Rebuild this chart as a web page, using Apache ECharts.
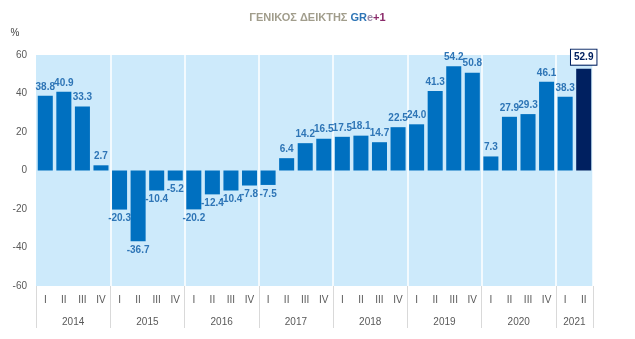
<!DOCTYPE html>
<html>
<head>
<meta charset="utf-8">
<script src="https://cdn.jsdelivr.net/npm/echarts@6/dist/echarts.min.js"></script>
<style>
  html, body { margin: 0; padding: 0; background: #ffffff; }
  #chart { width: 635px; height: 339px; }
</style>
</head>
<body>
<div id="chart"></div>
<script>
// Quarterly index values, 2014 Q1 – 2021 Q2
const quarters = ['I','II','III','IV','I','II','III','IV','I','II','III','IV','I','II','III','IV',
                  'I','II','III','IV','I','II','III','IV','I','II','III','IV','I','II'];
const years = ['2014','2015','2016','2017','2018','2019','2020','2021'];
const quartersPerYear = [4, 4, 4, 4, 4, 4, 4, 2];
const values = [38.8, 40.9, 33.3, 2.7,
                -20.3, -36.7, -10.4, -5.2,
                -20.2, -12.4, -10.4, -7.8,
                -7.5, 6.4, 14.2, 16.5,
                17.5, 18.1, 14.7, 22.5,
                24.0, 41.3, 54.2, 50.8,
                7.3, 27.9, 29.3, 46.1,
                38.3, 52.9];
const yTicks = [-60, -40, -20, 0, 20, 40, 60];

// Year boundaries (category index where each year starts) and year centres
const yearStarts = [];
const yearCentres = [];
let acc = 0;
quartersPerYear.forEach(n => {
  yearStarts.push(acc);
  yearCentres.push(acc + (n - 1) / 2);
  acc += n;
});
const boundarySet = new Set(yearStarts);
boundarySet.add(values.length); // closing boundary on the right

const BAR = '#0070C0';
const BAR_LAST = '#002060';
const LABEL = '#2E75B6';
const lastIdx = values.length - 1;

const barData = values.map((v, i) => {
  const item = { value: v };
  if (i === lastIdx) {
    item.itemStyle = { color: BAR_LAST };
    item.label = {
      color: BAR_LAST,
      backgroundColor: '#ffffff',
      borderColor: BAR_LAST,
      borderWidth: 1,
      padding: [3, 3, 2, 3],
      distance: 4
    };
  } else if (v < 0) {
    item.label = { position: 'bottom' };
  }
  return item;
});

const chart = echarts.init(document.getElementById('chart'), null, { renderer: 'canvas' });

chart.setOption({
  animation: false,
  backgroundColor: '#ffffff',
  textStyle: { fontFamily: 'Liberation Sans, Arial, sans-serif' },
  title: {
    text: '{a|ΓΕΝΙΚΟΣ ΔΕΙΚΤΗΣ }{b|GR}{c|e}{d|+1}',
    left: 'center',
    top: 7,
    textStyle: {
      rich: {
        a: { color: '#A19D8C', fontSize: 11, fontWeight: 'bold', fontFamily: 'Liberation Sans' },
        b: { color: '#2E75B6', fontSize: 11, fontWeight: 'bold', fontFamily: 'Liberation Sans' },
        c: { color: '#9A8AA6', fontSize: 11, fontWeight: 'bold', fontFamily: 'Liberation Sans' },
        d: { color: '#8A2A6A', fontSize: 11, fontWeight: 'bold', fontFamily: 'Liberation Sans' }
      }
    }
  },
  grid: {
    left: 36,
    right: 42,
    top: 55,
    bottom: 53,
    show: true,
    backgroundColor: '#CDEAFB',
    borderWidth: 0,
    containLabel: false
  },
  xAxis: [
    {
      type: 'category',
      data: quarters,
      position: 'bottom',
      boundaryGap: true,
      axisLine: { show: false, onZero: false },
      axisTick: {
        show: true,
        length: 42,
        interval: (idx) => boundarySet.has(idx),
        lineStyle: { color: '#D9D9D9', width: 1 }
      },
      axisLabel: {
        interval: 0,
        color: '#595959',
        fontSize: 10,
        margin: 9
      },
      splitLine: {
        show: true,
        interval: (idx) => boundarySet.has(idx) && idx !== 0 && idx !== values.length,
        lineStyle: { color: '#ffffff', width: 1.5 }
      }
    },
    {
      type: 'value',
      position: 'bottom',
      min: -0.5,
      max: values.length - 0.5,
      interval: 0.5,
      axisLine: { show: false },
      axisTick: { show: false },
      splitLine: { show: false },
      axisLabel: {
        customValues: yearCentres,
        formatter: (v) => {
          const k = yearCentres.findIndex(c => Math.abs(c - v) < 1e-6);
          return k >= 0 ? years[k] : '';
        },
        color: '#595959',
        fontSize: 10,
        margin: 31
      }
    }
  ],
  yAxis: {
    type: 'value',
    min: yTicks[0],
    max: yTicks[yTicks.length - 1],
    interval: 20,
    name: '%',
    nameLocation: 'end',
    nameGap: 17,
    nameTextStyle: { color: '#404040', fontSize: 10, align: 'right', padding: [0, 26, 0, 0] },
    axisLine: { show: false },
    axisTick: { show: false },
    splitLine: { show: false },
    axisLabel: { color: '#595959', fontSize: 10, margin: 9 }
  },
  series: [
    {
      type: 'bar',
      xAxisIndex: 0,
      data: barData,
      barCategoryGap: '19%',
      itemStyle: { color: BAR },
      label: {
        show: true,
        position: 'top',
        distance: 4,
        color: LABEL,
        fontSize: 10,
        fontWeight: 'bold',
        formatter: (p) => p.value.toFixed(1)
      }
    }
  ]
});
</script>
</body>
</html>
